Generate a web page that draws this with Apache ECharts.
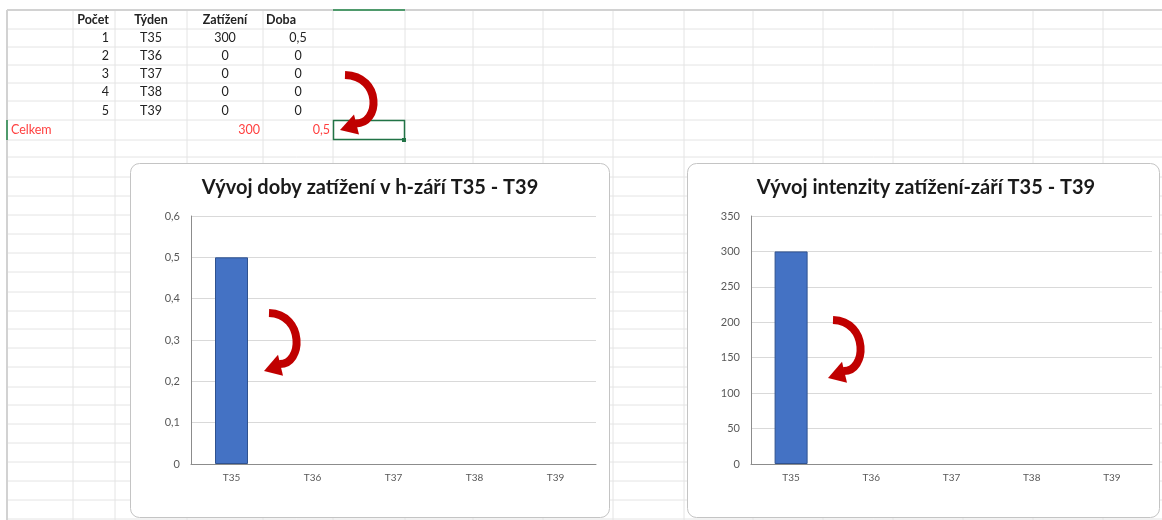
<!DOCTYPE html>
<html>
<head>
<meta charset="utf-8">
<script src="https://cdn.jsdelivr.net/npm/echarts@6/dist/echarts.min.js"></script>
<style>
html,body{margin:0;padding:0;background:#fff;}
#main{width:1162px;height:520px;}
</style>
</head>
<body>
<div id="main"></div>
<script>
// ---- data ----
const weeks = ['T35', 'T36', 'T37', 'T38', 'T39'];
const counts = [1, 2, 3, 4, 5];
const loadValues = [300, 0, 0, 0, 0];      // Zatížení
const durationValues = [0.5, 0, 0, 0, 0];  // Doba
const headers = ['Počet', 'Týden', 'Zatížení', 'Doba'];
const totalLabel = 'Celkem';
const durationTitle = 'Vývoj doby zatížení v h-září T35 - T39';
const loadTitle = 'Vývoj intenzity zatížení-září T35 - T39';

const FONT = 'Lato, "Open Sans", sans-serif';
const fmt = v => String(+(+v).toFixed(2)).replace('.', ',');
const sum = a => a.reduce((s, v) => s + v, 0);

// ---- spreadsheet layout ----
const colX = [73, 115, 187, 263, 333, 405, 473, 543, 613, 684, 753, 823, 893, 963, 1033, 1103];
const rowY = [29, 47, 65, 83, 101, 120, 140, 157, 177, 196, 215, 234, 253, 272, 292, 311, 329, 348, 367, 387, 405, 424, 443, 462, 481, 500, 519];
const rowCenters = [20, 38, 56, 74, 92, 111, 130];

const g = [];
g.push({type: 'rect', z: -30, shape: {x: 0, y: 0, width: 1162, height: 520}, style: {fill: '#fff'}});
rowY.forEach(y => g.push({type: 'line', z: -25, shape: {x1: 8, y1: y, x2: 1162, y2: y}, style: {stroke: '#e4e4e4', lineWidth: 1}}));
colX.forEach(x => g.push({type: 'line', z: -25, shape: {x1: x, y1: 10, x2: x, y2: 520}, style: {stroke: '#e4e4e4', lineWidth: 1}}));
g.push({type: 'line', z: -24, shape: {x1: 7, y1: 10, x2: 1162, y2: 10}, style: {stroke: '#d2d2d2', lineWidth: 2}});
g.push({type: 'line', z: -24, shape: {x1: 7, y1: 10, x2: 7, y2: 520}, style: {stroke: '#d2d2d2', lineWidth: 2}});
g.push({type: 'line', z: -23, shape: {x1: 333, y1: 10, x2: 405, y2: 10}, style: {stroke: '#4f9a6c', lineWidth: 2}});
g.push({type: 'line', z: -23, shape: {x1: 7, y1: 120, x2: 7, y2: 140}, style: {stroke: '#4f9a6c', lineWidth: 2}});
g.push({type: 'rect', z: -22, shape: {x: 333.5, y: 120.5, width: 71, height: 19}, style: {fill: 'none', stroke: '#217346', lineWidth: 1.5}});
g.push({type: 'rect', z: -21, shape: {x: 402, y: 138, width: 4, height: 4}, style: {fill: '#217346'}});

// chart boxes
g.push({type: 'rect', z: -20, shape: {x: 130.5, y: 163.5, width: 479, height: 354, r: 9}, style: {fill: '#fff', stroke: '#c4c4c4', lineWidth: 1}});
g.push({type: 'rect', z: -20, shape: {x: 687.5, y: 163.5, width: 472, height: 354, r: 9}, style: {fill: '#fff', stroke: '#c4c4c4', lineWidth: 1}});

// table text
function txt(s, x, y, align, opts) {
  g.push(Object.assign({type: 'text', z: -10, x: x, y: y, style: Object.assign({text: s, fill: '#222', font: '12.5px ' + FONT, textAlign: align, textVerticalAlign: 'middle'}, opts || {})}));
}
const bold = {font: 'bold 12.5px ' + FONT};
txt(headers[0], 109, rowCenters[0], 'right', bold);
txt(headers[1], 151, rowCenters[0], 'center', bold);
txt(headers[2], 225, rowCenters[0], 'center', bold);
txt(headers[3], 266, rowCenters[0], 'left', bold);
weeks.forEach((w, i) => {
  const y = rowCenters[i + 1];
  txt(String(counts[i]), 109, y, 'right');
  txt(w, 151, y, 'center');
  txt(fmt(loadValues[i]), 225, y, 'center');
  txt(fmt(durationValues[i]), 298, y, 'center');
});
const red = {fill: '#ff4040'};
txt(totalLabel, 11, rowCenters[6], 'left', red);
txt(fmt(sum(loadValues)), 260, rowCenters[6], 'right', red);
txt(fmt(sum(durationValues)), 330, rowCenters[6], 'right', red);

// red curved arrows (annotations)
function arrow(x0, y0, w, h) {
  g.push({type: 'bezierCurve', z: 50, shape: {
    x1: x0 + 2, y1: y0,
    cpx1: x0 + w * 1.3, cpy1: y0 + h * 0.02,
    cpx2: x0 + w * 1.25, cpy2: y0 + h * 0.9,
    x2: x0 + 12, y2: y0 + h * 0.88
  }, style: {stroke: '#c00000', lineWidth: 8, fill: 'none'}});
  g.push({type: 'polygon', z: 51, shape: {points: [
    [x0 - 3, y0 + h], [x0 + 11, y0 + h * 0.72], [x0 + 16, y0 + h * 1.08]
  ]}, style: {fill: '#c00000'}});
}
arrow(343, 75, 30, 55);
arrow(267, 313, 29, 58);
arrow(831, 320, 29, 58);

const axisLabelY = {color: '#595959', fontSize: 11, fontFamily: FONT, margin: 11, formatter: fmt};
const axisLabelX = {color: '#595959', fontSize: 10, fontFamily: FONT, margin: 9};
const axisLine = {show: true, lineStyle: {color: '#8c8c8c', width: 1}};
const splitLine = {show: true, lineStyle: {color: '#d9d9d9', width: 1}};
const barItems = vals => vals.map(v => v === 0 ? {value: v, itemStyle: {borderWidth: 0}} : v);

const option = {
  animation: false,
  graphic: {elements: g},
  title: [
    {text: durationTitle, left: 370, top: 178, textAlign: 'center', padding: 0,
     textStyle: {fontFamily: FONT, fontWeight: 'bold', fontSize: 20, color: '#1a1a1a'}},
    {text: loadTitle, left: 926, top: 178, textAlign: 'center', padding: 0,
     textStyle: {fontFamily: FONT, fontWeight: 'bold', fontSize: 20, color: '#1a1a1a'}}
  ],
  grid: [
    {left: 191, top: 216, width: 405, height: 248},
    {left: 751, top: 216, width: 401, height: 248}
  ],
  xAxis: [
    {type: 'category', gridIndex: 0, data: weeks, axisTick: {show: false}, axisLine: axisLine, axisLabel: axisLabelX},
    {type: 'category', gridIndex: 1, data: weeks, axisTick: {show: false}, axisLine: axisLine, axisLabel: axisLabelX}
  ],
  yAxis: [
    {type: 'value', gridIndex: 0, min: 0, max: 0.6, interval: 0.1, axisLine: axisLine, axisTick: {show: false}, axisLabel: axisLabelY, splitLine: splitLine},
    {type: 'value', gridIndex: 1, min: 0, max: 350, interval: 50, axisLine: axisLine, axisTick: {show: false}, axisLabel: axisLabelY, splitLine: splitLine}
  ],
  series: [
    {name: 'Doba', type: 'bar', xAxisIndex: 0, yAxisIndex: 0, data: barItems(durationValues), barWidth: 33,
     itemStyle: {color: '#4472c4', borderColor: '#2f528f', borderWidth: 1}},
    {name: 'Zatížení', type: 'bar', xAxisIndex: 1, yAxisIndex: 1, data: barItems(loadValues), barWidth: 33,
     itemStyle: {color: '#4472c4', borderColor: '#2f528f', borderWidth: 1}}
  ]
};
const chart = echarts.init(document.getElementById('main'), null, {renderer: 'canvas'});
chart.setOption(option);
</script>
</body>
</html>
